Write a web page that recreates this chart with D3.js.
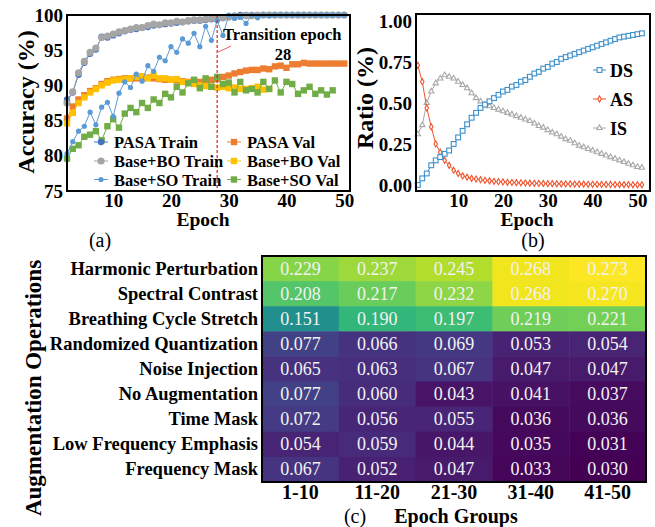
<!DOCTYPE html>
<html>
<head>
<meta charset="utf-8">
<script src="https://cdn.jsdelivr.net/npm/d3@7"></script>
<style>
  body { margin: 0; background: #fff; }
  svg text { font-family: "Liberation Serif", "Times New Roman", serif; }
</style>
</head>
<body>
<div id="vis"></div>
<script>
// ---- panel (a): accuracy per epoch (first value is epoch 2) ----
var accStart = 2;
var pasaTrain = [88.0, 89.0, 91.5, 93.2, 94.5, 95.1, 96.9, 96.8, 97.1, 97.4, 97.7, 97.9, 98.0, 98.2,
  98.3, 98.5, 98.6, 98.7, 98.8, 98.9, 99.0, 99.1, 99.2, 99.2, 99.3, 99.4, 99.4, 99.6, 99.8, 99.9,
  100, 100, 100, 100, 100, 100, 100, 100, 100, 100, 100, 100, 100, 100, 100, 100, 100, 100, 100];
var boTrain = [87.5, 89.1, 91.8, 93.4, 94.7, 95.3, 96.8, 97.0, 97.3, 97.6, 97.8, 98.0, 98.2, 98.2,
  98.5, 98.7, 98.6, 98.9, 98.9, 99.1, 99.0, 99.2, 99.3, 99.3, 99.4, 99.5, 99.5, 99.6, 99.7, 99.8,
  99.8, 99.9, 99.9, 99.9, 100, 100, 100, 100, 100, 100, 100, 100, 100, 100, 100, 100, 100, 100, 100];
var soTrain = [80.3, 82.0, 83.5, 84.2, 86.2, 84.4, 86.9, 87.6, 85.6, 88.9, 90.5, 89.7, 91.6, 90.6,
  92.8, 92.0, 94.0, 93.5, 95.5, 94.7, 96.6, 96.0, 97.4, 95.5, 98.4, 96.4, 99.2, 97.1, 100, 99.5,
  99.7, 98.8, 100, 99.6, 100, 99.9, 100, 100, 100, 100, 100, 100, 100, 100, 100, 100, 100, 100, 100];
var pasaVal = [85.3, 87.0, 88.0, 88.6, 89.2, 89.6, 90.2, 90.6, 90.8, 90.9, 91.0, 91.0, 91.0, 91.0,
  91.1, 91.0, 90.9, 90.8, 90.8, 90.7, 90.6, 90.5, 90.5, 90.5, 90.6, 90.8, 90.9, 91.2, 91.4, 91.7,
  91.9, 92.1, 92.2, 92.2, 92.4, 92.3, 92.7, 92.8, 92.5, 93.0, 93.0, 93.2, 93.1, 93.1, 93.1, 93.1,
  93.1, 93.1, 93.1];
var boVal = [84.6, 86.1, 87.5, 88.3, 89.0, 89.5, 90.0, 90.4, 90.7, 90.8, 90.9, 91.0, 91.2, 91.3,
  91.0, 91.4, 91.0, 91.0, 90.8, 90.9, 90.5, 90.4, 90.2, 90.0, 89.9, 89.8, 89.7, 89.8, 89.6, 89.7,
  89.5, 89.5, 89.6, 89.8, 89.4, 89.5];
var soVal = [79.6, 81.0, 81.5, 82.7, 83.0, 83.5, 82.2, 84.2, 85.2, 84.0, 86.0, 86.8, 86.2, 87.5,
  86.8, 88.0, 87.5, 88.8, 88.3, 89.8, 89.0, 90.3, 90.8, 89.6, 91.0, 89.8, 91.2, 90.2, 90.4, 89.0,
  90.5, 89.3, 89.5, 89.0, 90.5, 89.5, 90.7, 89.0, 90.5, 90.2, 88.8, 89.3, 89.8, 88.8, 89.3, 88.7,
  89.3];
var accTicksX = [10, 20, 30, 40, 50];
var accTicksY = [75, 80, 85, 90, 95, 100];
var transitionEpoch = 28;

// ---- panel (b): strategy ratios per epoch (first value is epoch 1) ----
var ratioStart = 1;
var dsRatio = [0.00, 0.04, 0.07, 0.12, 0.15, 0.17, 0.19, 0.21, 0.25, 0.29, 0.33, 0.37, 0.41, 0.44,
  0.47, 0.49, 0.51, 0.53, 0.55, 0.57, 0.58, 0.60, 0.61, 0.63, 0.64, 0.66, 0.68, 0.69, 0.71, 0.72,
  0.74, 0.75, 0.77, 0.78, 0.79, 0.80, 0.81, 0.82, 0.83, 0.84, 0.85, 0.86, 0.87, 0.88, 0.89, 0.90,
  0.905, 0.91, 0.915, 0.92, 0.925];
var asRatio = [0.73, 0.63, 0.47, 0.355, 0.25, 0.20, 0.15, 0.12, 0.09, 0.07, 0.055, 0.047, 0.04,
  0.036, 0.032, 0.028, 0.025, 0.022, 0.02, 0.018, 0.016, 0.015, 0.014, 0.013, 0.012, 0.011, 0.01,
  0.009, 0.009, 0.008, 0.008, 0.007, 0.007, 0.006, 0.006, 0.005, 0.005, 0.005, 0.004, 0.004, 0.004,
  0.003, 0.003, 0.003, 0.002, 0.002, 0.002, 0.002, 0.001, 0.001, 0.001];
var isRatio = [0.31, 0.365, 0.50, 0.57, 0.62, 0.65, 0.67, 0.66, 0.65, 0.63, 0.61, 0.59, 0.56,
  0.53, 0.51, 0.49, 0.48, 0.47, 0.46, 0.45, 0.44, 0.43, 0.42, 0.41, 0.40, 0.39, 0.375, 0.36, 0.35,
  0.335, 0.32, 0.31, 0.295, 0.28, 0.27, 0.255, 0.24, 0.23, 0.22, 0.21, 0.20, 0.19, 0.18, 0.17,
  0.16, 0.15, 0.14, 0.13, 0.12, 0.11, 0.105];
var ratioTicksX = [10, 20, 30, 40, 50];
var ratioTicksY = [0, 0.25, 0.5, 0.75, 1];

// ---- panel (c): operation share per epoch group ----
var operations = ['Harmonic Perturbation', 'Spectral Contrast', 'Breathing Cycle Stretch',
  'Randomized Quantization', 'Noise Injection', 'No Augmentation', 'Time Mask',
  'Low Frequency Emphasis', 'Frequency Mask'];
var epochGroups = ['1-10', '11-20', '21-30', '31-40', '41-50'];
var harmonicPert = [0.229, 0.237, 0.245, 0.268, 0.273];
var spectralContrast = [0.208, 0.217, 0.232, 0.268, 0.270];
var breathingStretch = [0.151, 0.190, 0.197, 0.219, 0.221];
var randomQuant = [0.077, 0.066, 0.069, 0.053, 0.054];
var noiseInjection = [0.065, 0.063, 0.067, 0.047, 0.047];
var noAugmentation = [0.077, 0.060, 0.043, 0.041, 0.037];
var timeMask = [0.072, 0.056, 0.055, 0.036, 0.036];
var lowFreqEmphasis = [0.054, 0.059, 0.044, 0.035, 0.031];
var freqMask = [0.067, 0.052, 0.047, 0.033, 0.030];

var svg = d3.select('#vis').append('svg')
  .attr('width', 655)
  .attr('height', 527);

// helper: turn a value list into {epoch, v} points
function toPoints(values, start) {
  return values.map(function (v, i) { return { epoch: start + i, v: v }; });
}

// helper: bold tick labels, no tick lines, no domain path
function styleAxis(sel, size) {
  sel.select('.domain').remove();
  sel.selectAll('line').remove();
  sel.selectAll('text')
    .attr('font-size', size)
    .attr('font-weight', 'bold')
    .attr('fill', '#000');
}

function drawMarker(g, shape, cx, cy, size, color, open) {
  var m;
  if (shape === 'circle') {
    m = g.append('circle').attr('cx', cx).attr('cy', cy).attr('r', size);
  } else if (shape === 'square') {
    m = g.append('rect').attr('x', cx - size).attr('y', cy - size)
      .attr('width', size * 2).attr('height', size * 2);
  } else {
    var type = shape === 'diamond' ? d3.symbolDiamond : d3.symbolTriangle;
    m = g.append('path')
      .attr('d', d3.symbol().type(type).size(size * size * 2)())
      .attr('transform', 'translate(' + cx + ',' + cy + ')');
  }
  if (open) {
    m.attr('fill', '#fff').attr('stroke', color).attr('stroke-width', 1.1);
  } else {
    m.attr('fill', color);
  }
  return m;
}

function drawSeries(g, x, y, pts, s) {
  g.append('path')
    .datum(pts)
    .attr('fill', 'none')
    .attr('stroke', s.color)
    .attr('stroke-width', s.lineWidth || 1)
    .attr('d', d3.line().x(function (d) { return x(d.epoch); }).y(function (d) { return y(d.v); }));
  pts.forEach(function (d) {
    drawMarker(g, s.shape, x(d.epoch), y(d.v), s.size, s.color, s.open);
  });
}

/* ================= panel (a) ================= */
var xA = d3.scaleLinear().domain([2, 51]).range([67, 350]);
var yA = d3.scaleLinear().domain([75, 100]).range([191, 15]);
var gA = svg.append('g');

var accSeries = [
  { name: 'PASA Val', values: pasaVal, color: '#ed7d31', shape: 'square', size: 3.2 },
  { name: 'Base+BO Val', values: boVal, color: '#ffc000', shape: 'square', size: 3.2 },
  { name: 'PASA Train', values: pasaTrain, color: '#4472c4', shape: 'circle', size: 3.2 },
  { name: 'Base+BO Train', values: boTrain, color: '#a5a5a5', shape: 'circle', size: 3.6 },
  { name: 'Base+SO Val', values: soVal, color: '#70ad47', shape: 'square', size: 3.2 },
  { name: 'Base+SO Train', values: soTrain, color: '#5b9bd5', shape: 'circle', size: 2.6 }
];
accSeries.forEach(function (s) {
  drawSeries(gA, xA, yA, toPoints(s.values, accStart), s);
});

// transition marker
gA.append('line')
  .attr('x1', xA(transitionEpoch)).attr('x2', xA(transitionEpoch))
  .attr('y1', 15).attr('y2', 191)
  .attr('stroke', '#d62020').attr('stroke-width', 1.2)
  .attr('stroke-dasharray', '3,2');
gA.append('line')
  .attr('x1', xA(transitionEpoch) + 1).attr('y1', 52)
  .attr('x2', xA(transitionEpoch) + 14).attr('y2', 46)
  .attr('stroke', '#e05050').attr('stroke-width', 0.9);
gA.append('text').attr('x', 223).attr('y', 40)
  .attr('font-size', 16.5).attr('font-weight', 'bold').text('Transition epoch');
gA.append('text').attr('x', 283).attr('y', 60).attr('text-anchor', 'middle')
  .attr('font-size', 16.5).attr('font-weight', 'bold').text(transitionEpoch);

gA.append('rect').attr('x', 67).attr('y', 15).attr('width', 283).attr('height', 176)
  .attr('fill', 'none').attr('stroke', '#000').attr('stroke-width', 2);

gA.append('g').attr('transform', 'translate(0,191)')
  .call(d3.axisBottom(xA).tickValues(accTicksX).tickSize(0).tickPadding(2))
  .call(styleAxis, 19);
gA.append('g').attr('transform', 'translate(67,0)')
  .call(d3.axisLeft(yA).tickValues(accTicksY).tickSize(0).tickPadding(4))
  .call(styleAxis, 19);

gA.append('text').attr('transform', 'translate(34,102) rotate(-90)')
  .attr('text-anchor', 'middle').attr('font-size', 24).attr('font-weight', 'bold')
  .text('Accuracy (%)');
gA.append('text').attr('x', 203).attr('y', 226).attr('text-anchor', 'middle')
  .attr('font-size', 19.5).attr('font-weight', 'bold').text('Epoch');
gA.append('text').attr('x', 100).attr('y', 247).attr('text-anchor', 'middle')
  .attr('font-size', 20).text('(a)');

// legend (a)
var legendA = [
  { s: accSeries[2], x: 101, y: 142 }, { s: accSeries[0], x: 234, y: 142 },
  { s: accSeries[3], x: 101, y: 161 }, { s: accSeries[1], x: 234, y: 161 },
  { s: accSeries[5], x: 101, y: 179.5 }, { s: accSeries[4], x: 234, y: 179.5 }
];
legendA.forEach(function (l) {
  gA.append('line').attr('x1', l.x - 7).attr('x2', l.x + 7).attr('y1', l.y).attr('y2', l.y)
    .attr('stroke', l.s.color).attr('stroke-width', 1);
  drawMarker(gA, l.s.shape, l.x, l.y, l.s.size, l.s.color, false);
  gA.append('text').attr('x', l.x + 13).attr('y', l.y + 6)
    .attr('font-size', 16.5).attr('font-weight', 'bold').text(l.s.name);
});

/* ================= panel (b) ================= */
var xB = d3.scaleLinear().domain([0.6, 52.8]).range([416, 650]);
var yB = d3.scaleLinear().domain([-0.037, 1.043]).range([191, 14]);
var gB = svg.append('g');

var ratioSeries = [
  { name: 'IS', values: isRatio, color: '#a8a8a8', shape: 'triangle', size: 2.5, open: true },
  { name: 'AS', values: asRatio, color: '#f0522a', shape: 'diamond', size: 2.3, open: true },
  { name: 'DS', values: dsRatio, color: '#3b8fcb', shape: 'square', size: 2.4, open: true }
];
ratioSeries.forEach(function (s) {
  drawSeries(gB, xB, yB, toPoints(s.values, ratioStart), s);
});

gB.append('rect').attr('x', 416).attr('y', 14).attr('width', 234).attr('height', 177)
  .attr('fill', 'none').attr('stroke', '#000').attr('stroke-width', 2);

gB.append('g').attr('transform', 'translate(0,191)')
  .call(d3.axisBottom(xB).tickValues(ratioTicksX).tickSize(0).tickPadding(2))
  .call(styleAxis, 19);
gB.append('g').attr('transform', 'translate(416,0)')
  .call(d3.axisLeft(yB).tickValues(ratioTicksY).tickFormat(d3.format('.2f')).tickSize(0).tickPadding(4))
  .call(styleAxis, 19);

gB.append('text').attr('transform', 'translate(373,98) rotate(-90)')
  .attr('text-anchor', 'middle').attr('font-size', 24).attr('font-weight', 'bold')
  .text('Ratio (%)');
gB.append('text').attr('x', 527).attr('y', 226).attr('text-anchor', 'middle')
  .attr('font-size', 19.5).attr('font-weight', 'bold').text('Epoch');
gB.append('text').attr('x', 533).attr('y', 247).attr('text-anchor', 'middle')
  .attr('font-size', 20).text('(b)');

// legend (b)
[ratioSeries[2], ratioSeries[1], ratioSeries[0]].forEach(function (s, i) {
  var ly = 70 + i * 29;
  gB.append('line').attr('x1', 593).attr('x2', 606).attr('y1', ly).attr('y2', ly)
    .attr('stroke', s.color).attr('stroke-width', 1);
  drawMarker(gB, s.shape, 599.5, ly, s.size, s.color, true);
  gB.append('text').attr('x', 610).attr('y', ly + 6.5)
    .attr('font-size', 18).attr('font-weight', 'bold').text(s.name);
});

/* ================= panel (c) ================= */
var heatRows = [harmonicPert, spectralContrast, breathingStretch, randomQuant, noiseInjection,
  noAugmentation, timeMask, lowFreqEmphasis, freqMask];
var xC = d3.scaleBand().domain(epochGroups).range([262, 646]);
var yC = d3.scaleBand().domain(operations).range([256, 482]);
var allVals = d3.merge(heatRows);
var colorC = d3.scaleSequential(d3.interpolateViridis).domain(d3.extent(allVals));
var gC = svg.append('g');

heatRows.forEach(function (row, r) {
  row.forEach(function (v, c) {
    gC.append('rect')
      .attr('x', xC(epochGroups[c])).attr('y', yC(operations[r]))
      .attr('width', xC.bandwidth() + 0.5).attr('height', yC.bandwidth() + 0.5)
      .attr('fill', colorC(v));
    gC.append('text')
      .attr('x', xC(epochGroups[c]) + xC.bandwidth() / 2)
      .attr('y', yC(operations[r]) + yC.bandwidth() / 2 + 6)
      .attr('text-anchor', 'middle').attr('font-size', 18).attr('fill', '#f2f2f2')
      .text(d3.format('.3f')(v));
  });
});
gC.append('rect').attr('x', 262).attr('y', 256).attr('width', 384).attr('height', 226)
  .attr('fill', 'none').attr('stroke', '#000').attr('stroke-width', 2);

operations.forEach(function (op) {
  gC.append('text').attr('x', 258).attr('y', yC(op) + yC.bandwidth() / 2 + 6)
    .attr('text-anchor', 'end').attr('font-size', 18.5).attr('font-weight', 'bold').text(op);
});
epochGroups.forEach(function (eg) {
  gC.append('text').attr('x', xC(eg) + xC.bandwidth() / 2).attr('y', 499)
    .attr('text-anchor', 'middle').attr('font-size', 20).attr('font-weight', 'bold').text(eg);
});
gC.append('text').attr('transform', 'translate(41,388) rotate(-90)')
  .attr('text-anchor', 'middle').attr('font-size', 23).attr('font-weight', 'bold')
  .text('Augmentation Operations');
gC.append('text').attr('x', 355).attr('y', 523).attr('text-anchor', 'middle')
  .attr('font-size', 20).text('(c)');
gC.append('text').attr('x', 456).attr('y', 523).attr('text-anchor', 'middle')
  .attr('font-size', 20).attr('font-weight', 'bold').text('Epoch Groups');
</script>
</body>
</html>
